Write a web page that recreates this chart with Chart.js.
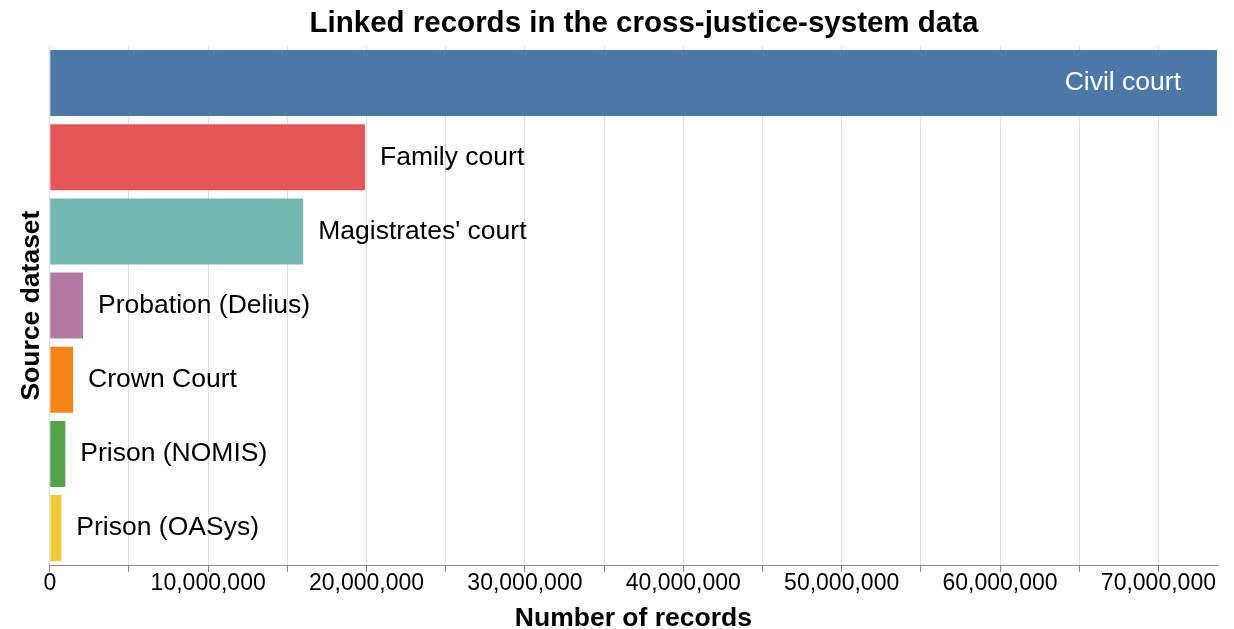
<!DOCTYPE html>
<html>
<head>
<meta charset="utf-8">
<script src="https://cdn.jsdelivr.net/npm/chart.js@4"></script>
<style>
  html, body { margin: 0; padding: 0; background: #fff; }
  #wrap { width: 1234px; height: 629px; }
</style>
</head>
<body>
<div id="wrap"><canvas id="records"></canvas></div>
<script>
const chartTitle = 'Linked records in the cross-justice-system data'
const datasets = ['Civil court', 'Family court', "Magistrates' court", 'Probation (Delius)', 'Crown Court', 'Prison (NOMIS)', 'Prison (OASys)']
const records = [73700000, 19900000, 16000000, 2100000, 1470000, 980000, 730000]
const barColors = ['#4c78a8', '#e45756', '#72b7b2', '#b279a2', '#f58518', '#54a24b', '#eeca3b']
// tick marks every 5M, labels every 10M
const tickValues = [0, 5e6, 10e6, 15e6, 20e6, 25e6, 30e6, 35e6, 40e6, 45e6, 50e6, 55e6, 60e6, 65e6, 70e6]
const tickLabels = ['0', '', '10,000,000', '', '20,000,000', '', '30,000,000', '', '40,000,000', '', '50,000,000', '', '60,000,000', '', '70,000,000']

const font = "'Liberation Sans', Arial, Helvetica, sans-serif"

// names written next to each bar (inside for the big one) + the title
const barLabels = {
    id: 'barLabels',
    afterDatasetsDraw(chart) {
        const ctx = chart.ctx
        const meta = chart.getDatasetMeta(0)
        ctx.save()
        ctx.font = '26.5px ' + font
        ctx.textBaseline = 'middle'
        meta.data.forEach((bar, i) => {
            if (i === 0) {
                ctx.fillStyle = '#ffffff'
                ctx.textAlign = 'right'
                ctx.fillText(datasets[i], bar.x - 36, bar.y)
            } else {
                ctx.fillStyle = '#000000'
                ctx.textAlign = 'left'
                ctx.fillText(datasets[i], bar.x + 15, bar.y)
            }
        })
        ctx.font = 'bold 29.5px ' + font
        ctx.fillStyle = '#000000'
        ctx.textAlign = 'center'
        ctx.fillText(chartTitle, 644, 24)
        ctx.restore()
    }
}

const chart_records = document.getElementById('records')
new Chart(chart_records, {
    type: 'bar',
    data: {
        labels: datasets,
        datasets: [{
            data: records,
            backgroundColor: barColors,
            borderWidth: 0,
            barPercentage: 0.89,
            categoryPercentage: 1
        }]
    },
    plugins: [barLabels],
    options: {
        indexAxis: 'y',
        responsive: true,
        maintainAspectRatio: false,
        animation: false,
        layout: {
            padding: { top: 46, left: 16, right: 17, bottom: 0 }
        },
        plugins: {
            legend: { display: false },
            tooltip: { enabled: false },
            title: { display: false }
        },
        scales: {
            x: {
                min: 0,
                max: records[0],
                afterBuildTicks: (axis) => {
                    axis.ticks = tickValues.map(v => ({ value: v }))
                },
                border: { display: true, color: '#888' },
                grid: { color: '#ddd', tickColor: '#888', tickLength: 7 },
                ticks: {
                    autoSkip: false,
                    maxRotation: 0,
                    color: '#000',
                    padding: 0,
                    font: { family: font, size: 23, lineHeight: 1 },
                    callback: (v, i) => tickLabels[i]
                },
                title: {
                    display: true,
                    text: 'Number of records',
                    color: '#000',
                    font: { family: font, size: 26.5, weight: 'bold', lineHeight: 0.75 },
                    padding: { top: 14, bottom: 0 }
                }
            },
            y: {
                border: { display: false },
                grid: { display: false, drawTicks: false },
                ticks: { display: false },
                title: {
                    display: true,
                    text: 'Source dataset',
                    color: '#000',
                    font: { family: font, size: 26.5, weight: 'bold', lineHeight: 1.2 },
                    padding: { top: 0, bottom: 2 }
                }
            }
        }
    }
})
</script>
</body>
</html>
